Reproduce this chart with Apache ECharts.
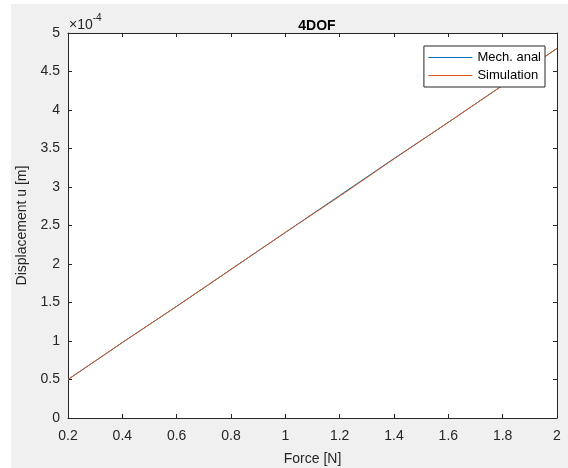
<!DOCTYPE html>
<html>
<head>
<meta charset="utf-8">
<script src="https://cdn.jsdelivr.net/npm/echarts@6/dist/echarts.min.js"></script>
<style>
	html,body{margin:0;padding:0;background:#ffffff;}
	#main{width:568px;height:468px;}
</style>
</head>
<body>
<div id="main"></div>
<script>
	// force on x, displacement in units of 1e-4 m
	var force = [0.2, 0.4, 0.6, 0.8, 1.0, 1.2, 1.4, 1.6, 1.8, 2.0];
	var mechAnal = [0.50, 0.98, 1.45, 1.93, 2.41, 2.89, 3.37, 3.84, 4.32, 4.80];
	var simulation = [0.50, 0.98, 1.45, 1.93, 2.41, 2.88, 3.365, 3.84, 4.32, 4.80];
	var xTicks = ['0.2', '0.4', '0.6', '0.8', '1', '1.2', '1.4', '1.6', '1.8', '2'];
	var yTicks = ['0', '0.5', '1', '1.5', '2', '2.5', '3', '3.5', '4', '4.5', '5'];

	var FONT = '"Liberation Sans", Arial, sans-serif';
	var AX = '#262626';
	var BLUE = '#0072BD', ORANGE = '#D95319';

	function pairs(xs, ys){
		var out = [];
		for(var i = 0 , j = xs.length; i < j ; i++){
			out.push([xs[i], ys[i]]);
		}
		return out;
	}

	// axis with ticks pointing inward, like the matlab box
	function boxAxis(pos, showLabel, ticks, min, max, interval, margin){
		return {
			type: 'value',
			position: pos,
			min: min,
			max: max,
			interval: interval,
			axisLine: {show: true, onZero: false, lineStyle: {color: AX, width: 1}},
			axisTick: {show: true, inside: true, length: 4, lineStyle: {color: AX}},
			splitLine: {show: false},
			axisLabel: {
				show: showLabel,
				color: AX,
				fontFamily: FONT,
				fontSize: 14,
				margin: margin,
				formatter: function(v){
					var k = Math.round((v - min) / interval);
					return ticks[k];
				}
			}
		};
	}

	var chart = echarts.init(document.getElementById('main'));
	var xA = boxAxis('bottom', true, xTicks, 0.2, 2, 0.2, 11);
	xA.name = 'Force [N]';
	xA.nameLocation = 'middle';
	xA.nameGap = 34;
	xA.nameTextStyle = {color: AX, fontFamily: FONT, fontSize: 14};
	var yA = boxAxis('left', true, yTicks, 0, 5, 0.5, 8);
	yA.name = 'Displacement u [m]';
	yA.nameLocation = 'middle';
	yA.nameGap = 37;
	yA.nameTextStyle = {color: AX, fontFamily: FONT, fontSize: 14};

	chart.setOption({
		backgroundColor: '#ffffff',
		animation: false,
		graphic: [
			{type: 'rect', z: -10, silent: true, shape: {x: 11, y: 4, width: 557, height: 464}, style: {fill: '#f0f0f0'}},
			{type: 'text', left: 69, top: 13, style: {
				text: '{a|\u00d710}{b|-4}',
				fill: AX,
				rich: {
					a: {fontFamily: FONT, fontSize: 14, fill: AX, verticalAlign: 'bottom'},
					b: {fontFamily: FONT, fontSize: 10, fill: AX, verticalAlign: 'top', padding: [0, 0, 9, 0]}
				}
			}}
		],
		title: {
			text: '4DOF',
			left: 312,
			textAlign: 'center',
			top: 14,
			textStyle: {color: '#000', fontFamily: FONT, fontSize: 14, fontWeight: 'bold'}
		},
		grid: {left: 68, right: 11, top: 33, bottom: 50, show: true, backgroundColor: '#ffffff', borderWidth: 0, outerBoundsMode: 'none', containLabel: false},
		legend: {
			right: 23,
			top: 46,
			orient: 'vertical',
			backgroundColor: '#ffffff',
			borderColor: AX,
			borderWidth: 1,
			padding: [5, 4, 5, 4],
			itemGap: 5,
			itemWidth: 44,
			itemHeight: 13,
			textStyle: {color: '#000', fontFamily: FONT, fontSize: 13},
			data: [
				{name: 'Mech. anal', itemStyle: {opacity: 0}, lineStyle: {color: BLUE, width: 1}},
				{name: 'Simulation', itemStyle: {opacity: 0}, lineStyle: {color: ORANGE, width: 1}}
			]
		},
		xAxis: [xA, boxAxis('top', false, xTicks, 0.2, 2, 0.2, 8)],
		yAxis: [yA, boxAxis('right', false, yTicks, 0, 5, 0.5, 8)],
		series: [
			{
				name: 'Mech. anal',
				type: 'line',
				showSymbol: false,
				color: BLUE,
				lineStyle: {width: 1, color: BLUE},
				data: pairs(force, mechAnal)
			},
			{
				name: 'Simulation',
				type: 'line',
				showSymbol: false,
				color: ORANGE,
				lineStyle: {width: 1, color: ORANGE},
				data: pairs(force, simulation)
			}
		]
	});
</script>
</body>
</html>
